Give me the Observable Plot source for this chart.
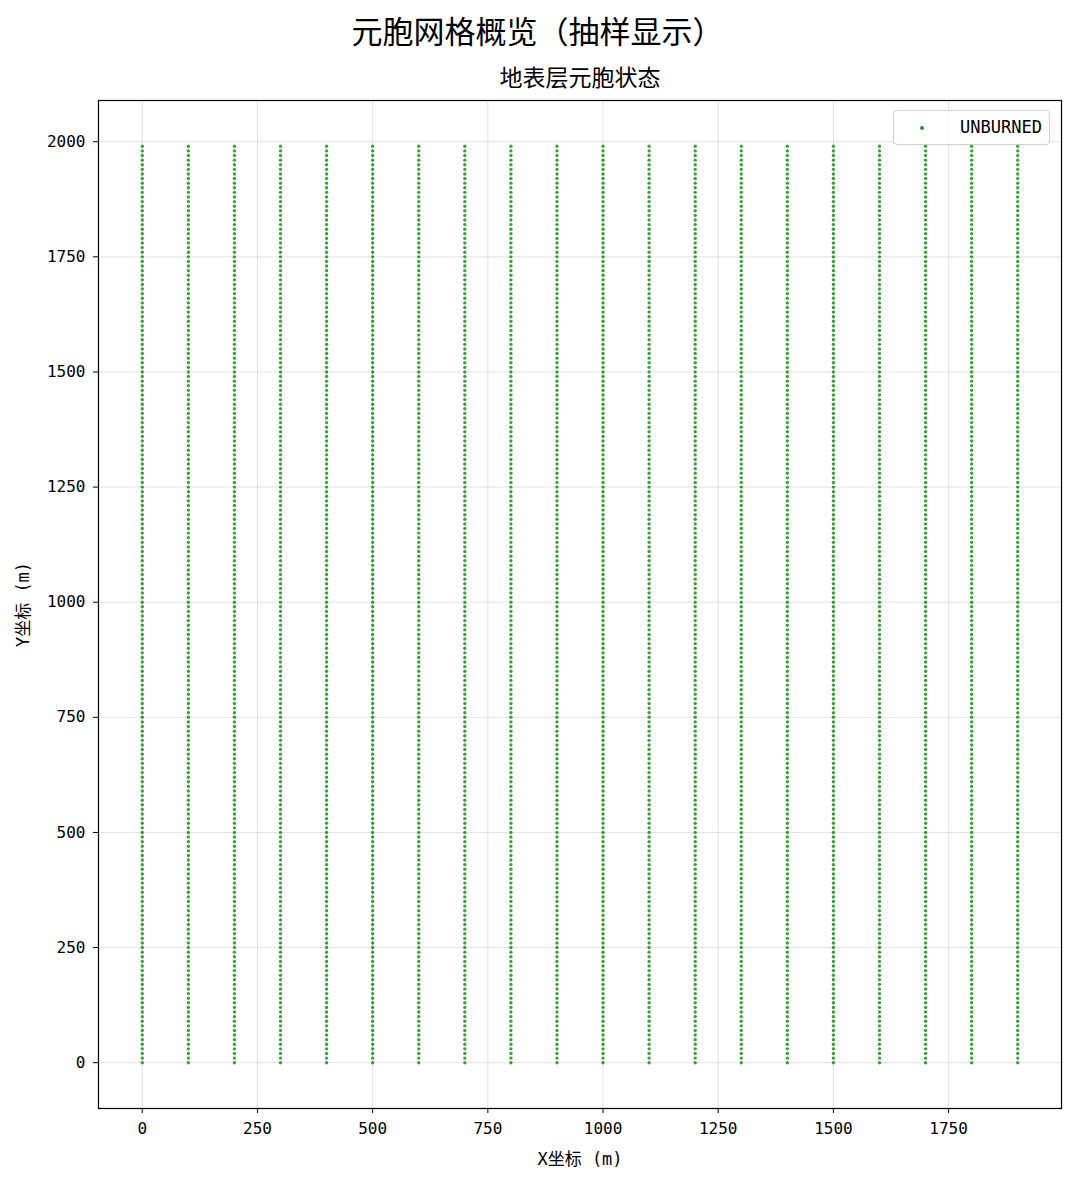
<!DOCTYPE html>
<html><head><meta charset="utf-8">
<script src="https://cdn.jsdelivr.net/npm/d3@7"></script>
<script src="https://cdn.jsdelivr.net/npm/@observablehq/plot@0.6"></script>
<style>
body{margin:0;background:#fff;font-family:"DejaVu Sans Mono","Noto Sans CJK SC",sans-serif;}
#wrap{position:relative;width:1075px;height:1183px;}
#title{position:absolute;left:0;top:0;width:1075px;height:60px;line-height:60px;text-align:center;font-size:31px;color:#000;font-family:"Noto Sans CJK SC",sans-serif;}
#chart{position:absolute;left:0;top:60px;}
#legend{position:absolute;left:893px;top:110px;width:157px;height:35px;border:1px solid #d0d0d0;border-radius:4px;background:rgba(255,255,255,0.8);font-size:17px;box-sizing:border-box;}
#legend .dot{position:absolute;left:26px;top:15px;width:3.5px;height:3.5px;border-radius:50%;background:green;opacity:0.8;}
#legend .lab{position:absolute;left:66px;top:5px;line-height:22px;}
</style></head>
<body><div id="wrap"><div id="title">元胞网格概览（抽样显示）</div><div id="chart"></div>
<div id="legend"><div class="dot"></div><div class="lab">UNBURNED</div></div></div>
<script>
const xCols = [0,100,200,300,400,500,600,700,800,900,1000,1100,1200,1300,1400,1500,1600,1700,1800,1900];
const yRows = [0,10,20,30,40,50,60,70,80,90,100,110,120,130,140,150,160,170,180,190,
200,210,220,230,240,250,260,270,280,290,300,310,320,330,340,350,360,370,380,390,
400,410,420,430,440,450,460,470,480,490,500,510,520,530,540,550,560,570,580,590,
600,610,620,630,640,650,660,670,680,690,700,710,720,730,740,750,760,770,780,790,
800,810,820,830,840,850,860,870,880,890,900,910,920,930,940,950,960,970,980,990,
1000,1010,1020,1030,1040,1050,1060,1070,1080,1090,1100,1110,1120,1130,1140,1150,1160,1170,1180,1190,
1200,1210,1220,1230,1240,1250,1260,1270,1280,1290,1300,1310,1320,1330,1340,1350,1360,1370,1380,1390,
1400,1410,1420,1430,1440,1450,1460,1470,1480,1490,1500,1510,1520,1530,1540,1550,1560,1570,1580,1590,
1600,1610,1620,1630,1640,1650,1660,1670,1680,1690,1700,1710,1720,1730,1740,1750,1760,1770,1780,1790,
1800,1810,1820,1830,1840,1850,1860,1870,1880,1890,1900,1910,1920,1930,1940,1950,1960,1970,1980,1990];
const stateLabel = "UNBURNED";
const xTicks = [0,250,500,750,1000,1250,1500,1750];
const yTicks = [0,250,500,750,1000,1250,1500,1750,2000];

const cells = [];
for (const x of xCols) for (const y of yRows) cells.push({x, y, state: stateLabel});

const chart = Plot.plot({
  width: 1075, height: 1123,
  marginLeft: 98, marginRight: 14, marginTop: 40, marginBottom: 75,
  style: {fontFamily: '"DejaVu Sans Mono","Noto Sans CJK SC",sans-serif', fontSize: "16px", color: "#000", background: "#fff"},
  x: {domain: [-95, 1995]},
  y: {domain: [-99.5, 2089.5]},
  marks: [
    Plot.gridX(xTicks, {stroke: "#b0b0b0", strokeOpacity: 0.35, strokeWidth: 1}),
    Plot.gridY(yTicks, {stroke: "#b0b0b0", strokeOpacity: 0.35, strokeWidth: 1}),
    Plot.dot(cells, {x: "x", y: "y", r: 1.7, fill: "green", fillOpacity: 0.75, stroke: "none"}),
    Plot.frame({stroke: "#000", strokeWidth: 1.2}),
    Plot.axisX(xTicks, {tickSize: 5, tickPadding: 9, fontSize: 16, tickFormat: d => String(d), label: null}),
    Plot.axisX({label: "X坐标 (m)", ticks: [], tickSize: 0, labelAnchor: "center", labelArrow: "none", labelOffset: 56, fontSize: 17}),
    Plot.axisY(yTicks, {tickSize: 5, tickPadding: 8, fontSize: 16, tickFormat: d => String(d), label: null}),
    Plot.axisY({label: "Y坐标 (m)", ticks: [], tickSize: 0, labelAnchor: "center", labelArrow: "none", labelOffset: 82, fontSize: 17}),
    Plot.text(["地表层元胞状态"], {frameAnchor: "top", dy: -22, lineAnchor: "middle", fontSize: 23, fill: "#000", fontFamily: '"Noto Sans CJK SC",sans-serif'})
  ]
});
document.getElementById("chart").appendChild(chart);
</script></body></html>
